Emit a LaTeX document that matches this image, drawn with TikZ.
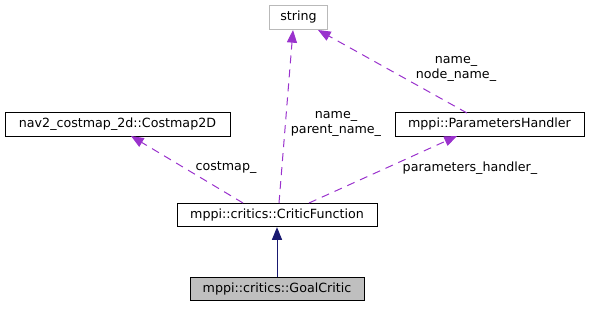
\documentclass[tikz,border=0pt]{standalone}
\usepackage{fontspec}
\setmainfont{DejaVu Sans}
\usetikzlibrary{arrows.meta}
\definecolor{dep}{HTML}{9A32CD}
\definecolor{inh}{HTML}{191970}
\tikzset{
  cls/.style={draw=black, fill=white, line width=0.7pt, minimum height=17.5pt, inner sep=0pt, font=\fontsize{9.5}{10}\selectfont},
  ext/.style={cls, draw=gray!55},
  cur/.style={cls, fill=gray!50},
  usage/.style={draw=dep, dash pattern=on 6pt off 4.5pt, line width=0.75pt, -{Triangle[length=9.5pt,width=7.5pt]}},
  inher/.style={draw=inh, line width=0.75pt, -{Triangle[length=9.5pt,width=7.5pt]}},
  lbl/.style={font=\fontsize{9.5}{11}\selectfont, align=center, inner sep=0pt}
}
\begin{document}
\begin{tikzpicture}[x=0.75pt,y=-0.75pt]
\useasboundingbox (0,0) rectangle (589,309);
\node[ext, minimum width=44pt] (str) at (298.5,17.5) {string};
\node[cls, minimum width=168.75pt] (cm) at (117.5,124.5) {nav2\_costmap\_2d::Costmap2D};
\node[cls, minimum width=141.75pt] (ph) at (489.5,124.5) {mppi::ParametersHandler};
\node[cls, minimum width=150pt] (cf) at (277,215) {mppi::critics::CriticFunction};
\node[cur, minimum width=130.5pt] (gc) at (277,289) {mppi::critics::GoalCritic};

\coordinate (cfA) at (243,203);
\coordinate (cfB) at (279,203);
\coordinate (cfC) at (309,203);
\coordinate (cmT) at (131,136);
\coordinate (strB) at (293,30);
\coordinate (strR) at (318,30);
\coordinate (phB) at (457,136);
\coordinate (phT) at (467,113);

\draw[inher] (gc.north) -- (cf.south);
\draw[usage] (cfA) -- (cmT);
\draw[usage] (cfB) -- (strB);
\draw[usage] (cfC) -- (phB);
\draw[usage] (phT) -- (strR);

\node[lbl] (l1) at (226,168) {costmap\_};
\node[lbl] (l2) at (336,124) {name\_\\parent\_name\_};
\node[lbl] (l3) at (470,168) {parameters\_handler\_};
\node[lbl] (l4) at (456,69) {name\_\\node\_name\_};
\end{tikzpicture}
\end{document}
